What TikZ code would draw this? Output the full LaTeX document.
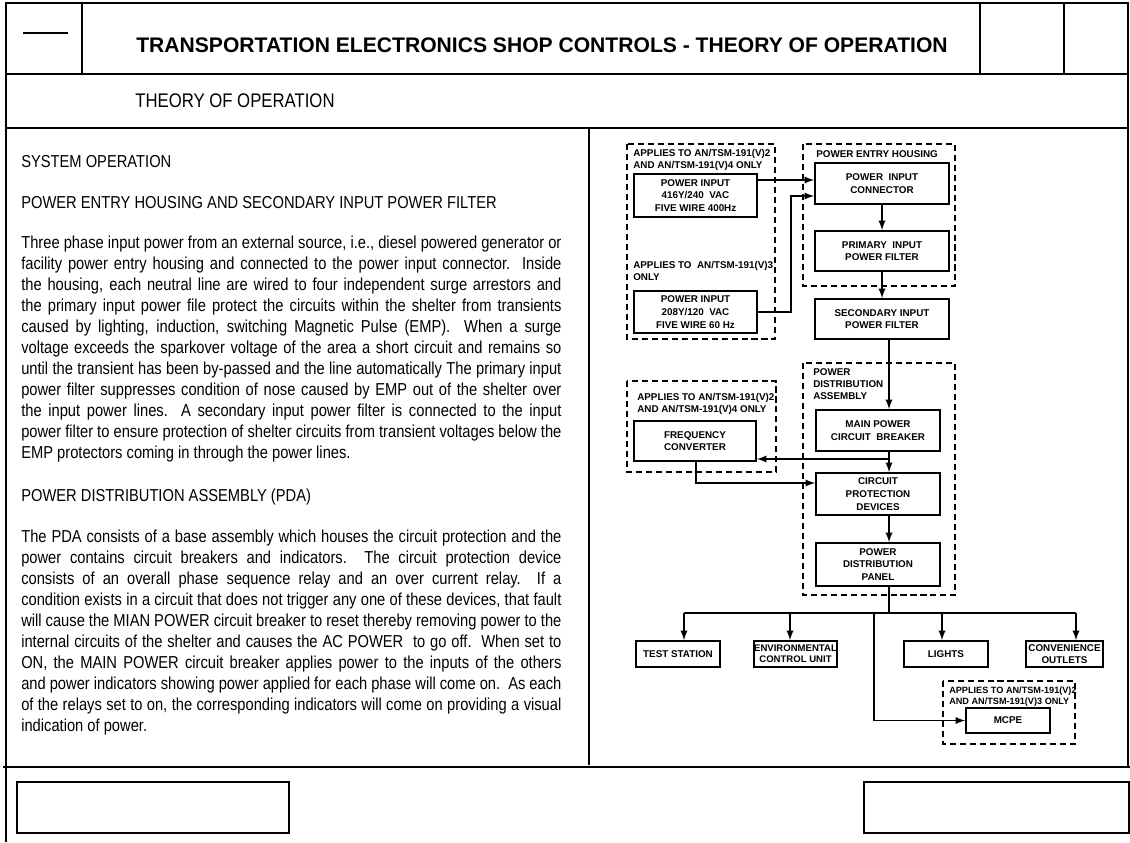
\documentclass[tikz,border=0pt]{standalone}
\usepackage{fontspec}
\setmainfont{Liberation Sans}
\newfontfamily\narrowfont[FakeStretch=0.85]{Liberation Sans}
\usetikzlibrary{positioning, arrows}
\tikzset{
>=latex, % small filled arrow heads
blk/.style={draw, line width=1.3pt, align=center, inner sep=1pt, font=\bfseries\fontsize{7}{9}\selectfont}, % a block of the diagram
grp/.style={draw, line width=1.3pt, dash pattern=on 4.3pt off 2.8pt}, % dashed frame round a group of blocks
grplabel/.style={anchor=north west, align=left, inner sep=0pt, font=\bfseries\fontsize{7}{8.5}\selectfont}, % text in a dashed frame
wire/.style={line width=1.3pt}, % connectors
frame/.style={line width=1.6pt}, % lines of the page form
bodytext/.style={anchor=north west, inner sep=0pt, text width=13.5cm, align=justify, font=\narrowfont\fontsize{12.3}{14.9}\selectfont},
heading/.style={anchor=west, inner sep=0pt, font=\narrowfont\fontsize{12.3}{14.9}\selectfont},
}

\begin{document}
\begin{tikzpicture}[x=0.025cm, y=-0.025cm]
    \useasboundingbox (0,0) rectangle (1130,842);

    % page form
    \draw[frame] (6,842) -- (6,3) -- (1128,3) -- (1128,767);
    \draw[frame] (3,767) -- (1130,767);
    \draw[frame] (6,74) -- (1128,74);
    \draw[frame] (6,128) -- (1128,128);
    \draw[frame] (82,3) -- (82,74);
    \draw[frame] (980,3) -- (980,74);
    \draw[frame] (1064,3) -- (1064,74);
    \draw[line width=1.2pt] (23,33) -- (68,33);
    \draw[line width=0.8pt] (589,128) -- (589,765);
    \draw[frame] (17,782) rectangle (289,833);
    \draw[frame] (864,782) rectangle (1129,833);

    \node[font=\bfseries\fontsize{15}{17}\selectfont] (title) at (542,45)
        {TRANSPORTATION ELECTRONICS SHOP CONTROLS - THEORY OF OPERATION};
    \node[heading, font=\narrowfont\fontsize{14}{16}\selectfont] (subtitle) at (135,101) {THEORY OF OPERATION};

    % text column
    \node[heading] (h1) at (21,162) {SYSTEM OPERATION};
    \node[heading] (h2) at (21,203) {POWER ENTRY HOUSING AND SECONDARY INPUT POWER FILTER};
    \node[bodytext] (p1) at (21,236) {\hyphenpenalty=10000
        Three phase input power from an external source, i.e., diesel powered generator or\linebreak
        facility power entry housing and connected to the power input connector.\ \ Inside\linebreak
        the housing, each neutral line are wired to four independent surge arrestors and\linebreak
        the primary input power file protect the circuits within the shelter from transients\linebreak
        caused by lighting, induction, switching Magnetic Pulse (EMP).\ \ When a surge\linebreak
        voltage exceeds the sparkover voltage of the area a short circuit and remains so\linebreak
        until the transient has been by-passed and the line automatically The primary input\linebreak
        power filter suppresses condition of nose caused by EMP out of the shelter over\linebreak
        the input power lines.\ \ A secondary input power filter is connected to the input\linebreak
        power filter to ensure protection of shelter circuits from transient voltages below the\linebreak
        EMP protectors coming in through the power lines.};
    \node[heading] (h3) at (21,497) {POWER DISTRIBUTION ASSEMBLY (PDA)};
    \node[bodytext] (p2) at (21,530) {\hyphenpenalty=10000
        The PDA consists of a base assembly which houses the circuit protection and the\linebreak
        power contains circuit breakers and indicators.\ \ The circuit protection device\linebreak
        consists of an overall phase sequence relay and an over current relay.\ \ If a\linebreak
        condition exists in a circuit that does not trigger any one of these devices, that fault\linebreak
        will cause the MIAN POWER circuit breaker to reset thereby removing power to the\linebreak
        internal circuits of the shelter and causes the AC POWER\ \ to go off.\ \ When set to\linebreak
        ON, the MAIN POWER circuit breaker applies power to the inputs of the others\linebreak
        and power indicators showing power applied for each phase will come on.\ \ As each\linebreak
        of the relays set to on, the corresponding indicators will come on providing a visual\linebreak
        indication of power.};

    % dashed groups
    \draw[grp] (627,144) rectangle (775,339);
    \draw[grp] (803,144) rectangle (955,286);
    \draw[grp] (803,363) rectangle (955,595);
    \draw[grp] (627,381) rectangle (776,472);
    \draw[grp] (943,681) rectangle (1075,744);
    \node[grplabel] (ga1) at (633,149) {APPLIES TO AN/TSM-191(V)2\\AND AN/TSM-191(V)4 ONLY};
    \node[grplabel] (ga2) at (633,261) {APPLIES TO\ \ AN/TSM-191(V)3\\ONLY};
    \node[grplabel] (gb) at (816,150) {POWER ENTRY HOUSING};
    \node[grplabel] (gc) at (813,368) {POWER\\DISTRIBUTION\\ASSEMBLY};
    \node[grplabel] (gd) at (637,393) {APPLIES TO AN/TSM-191(V)2\\AND AN/TSM-191(V)4 ONLY};
    \node[grplabel, font=\bfseries\fontsize{6.5}{7.5}\selectfont] (ge) at (949,687) {APPLIES TO AN/TSM-191(V)2\\AND AN/TSM-191(V)3 ONLY};

    % blocks
    \node[blk, minimum width=3.075cm, minimum height=1.075cm] (pi1) at (695.5,195.5) {POWER INPUT\\416Y/240\ \ VAC\\FIVE WIRE 400Hz};
    \node[blk, minimum width=3.075cm, minimum height=1.05cm] (pi2) at (695.5,312) {POWER INPUT\\208Y/120\ \ VAC\\FIVE WIRE 60 Hz};
    \node[blk, minimum width=3.35cm, minimum height=1.025cm] (pic) at (882,183.5) {POWER\ \ INPUT\\CONNECTOR};
    \node[blk, minimum width=3.35cm, minimum height=1.0cm] (pipf) at (882,251) {PRIMARY\ \ INPUT\\POWER FILTER};
    \node[blk, minimum width=3.35cm, minimum height=1.0cm] (sipf) at (882,319) {SECONDARY INPUT\\POWER FILTER};
    \node[blk, minimum width=3.1cm, minimum height=1.025cm] (mpcb) at (878,430.5) {MAIN POWER\\CIRCUIT\ \ BREAKER};
    \node[blk, minimum width=3.1cm, minimum height=1.05cm] (cpd) at (878,494) {CIRCUIT\\PROTECTION\\DEVICES};
    \node[blk, minimum width=3.1cm, minimum height=1.075cm] (pdp) at (878,564.5) {POWER\\DISTRIBUTION\\PANEL};
    \node[blk, minimum width=3.05cm, minimum height=1.0cm] (fc) at (695,441) {FREQUENCY\\CONVERTER};
    \node[blk, minimum width=2.1cm, minimum height=0.65cm] (ts) at (678,654) {TEST STATION};
    \node[blk, minimum width=2.075cm, minimum height=0.65cm, inner xsep=0pt, font=\bfseries\fontsize{6.8}{8}\selectfont] (ecu) at (795.5,654) {ENVIRONMENTAL\\CONTROL UNIT};
    \node[blk, minimum width=2.1cm, minimum height=0.65cm] (lights) at (946,654) {LIGHTS};
    \node[blk, minimum width=1.925cm, minimum height=0.65cm, font=\bfseries\fontsize{7}{8}\selectfont] (conv) at (1064.5,654) {CONVENIENCE\\OUTLETS};
    \node[blk, minimum width=2.1cm, minimum height=0.625cm] (mcpe) at (1008,720.5) {MCPE};

    % connectors
    \coordinate (hi) at (757,180);
    \coordinate (bend) at (791,196);
    \coordinate (spine) at (889,0);
    \coordinate (br) at (889,459);
    \coordinate (fo) at (696,483);
    \coordinate (t1) at (684,613);
    \coordinate (t2) at (790,613);
    \coordinate (t3) at (874,613);
    \coordinate (t4) at (942,613);
    \coordinate (t5) at (1076,613);

    \draw[wire, ->] (pi1.east |- hi) -- (pic.west |- hi);
    \draw[wire, ->] (pi2.east) -| (bend) -- (pic.west |- bend);
    \draw[wire, ->] (pic) -- (pipf);
    \draw[wire, ->] (pipf) -- (sipf);
    \draw[wire, ->] (sipf.south -| spine) -- (mpcb.north -| spine);
    \draw[wire, ->] (mpcb.south -| spine) -- (cpd.north -| spine);
    \draw[wire, ->] (br) -- (br -| fc.east);
    \draw[wire, ->] (fc.south -| fo) |- (fo -| cpd.west);
    \draw[wire, ->] (cpd.south -| spine) -- (pdp.north -| spine);
    \draw[wire] (pdp.south -| spine) -- (spine |- t1);
    \draw[wire] (t1) -- (t5);
    \draw[wire, ->] (t1) -- (t1 |- ts.north);
    \draw[wire, ->] (t2) -- (t2 |- ecu.north);
    \draw[wire, ->] (t4) -- (t4 |- lights.north);
    \draw[wire, ->] (t5) -- (t5 |- conv.north);
    \draw[wire, ->] (t3) |- (mcpe.west);
\end{tikzpicture}
\end{document}
